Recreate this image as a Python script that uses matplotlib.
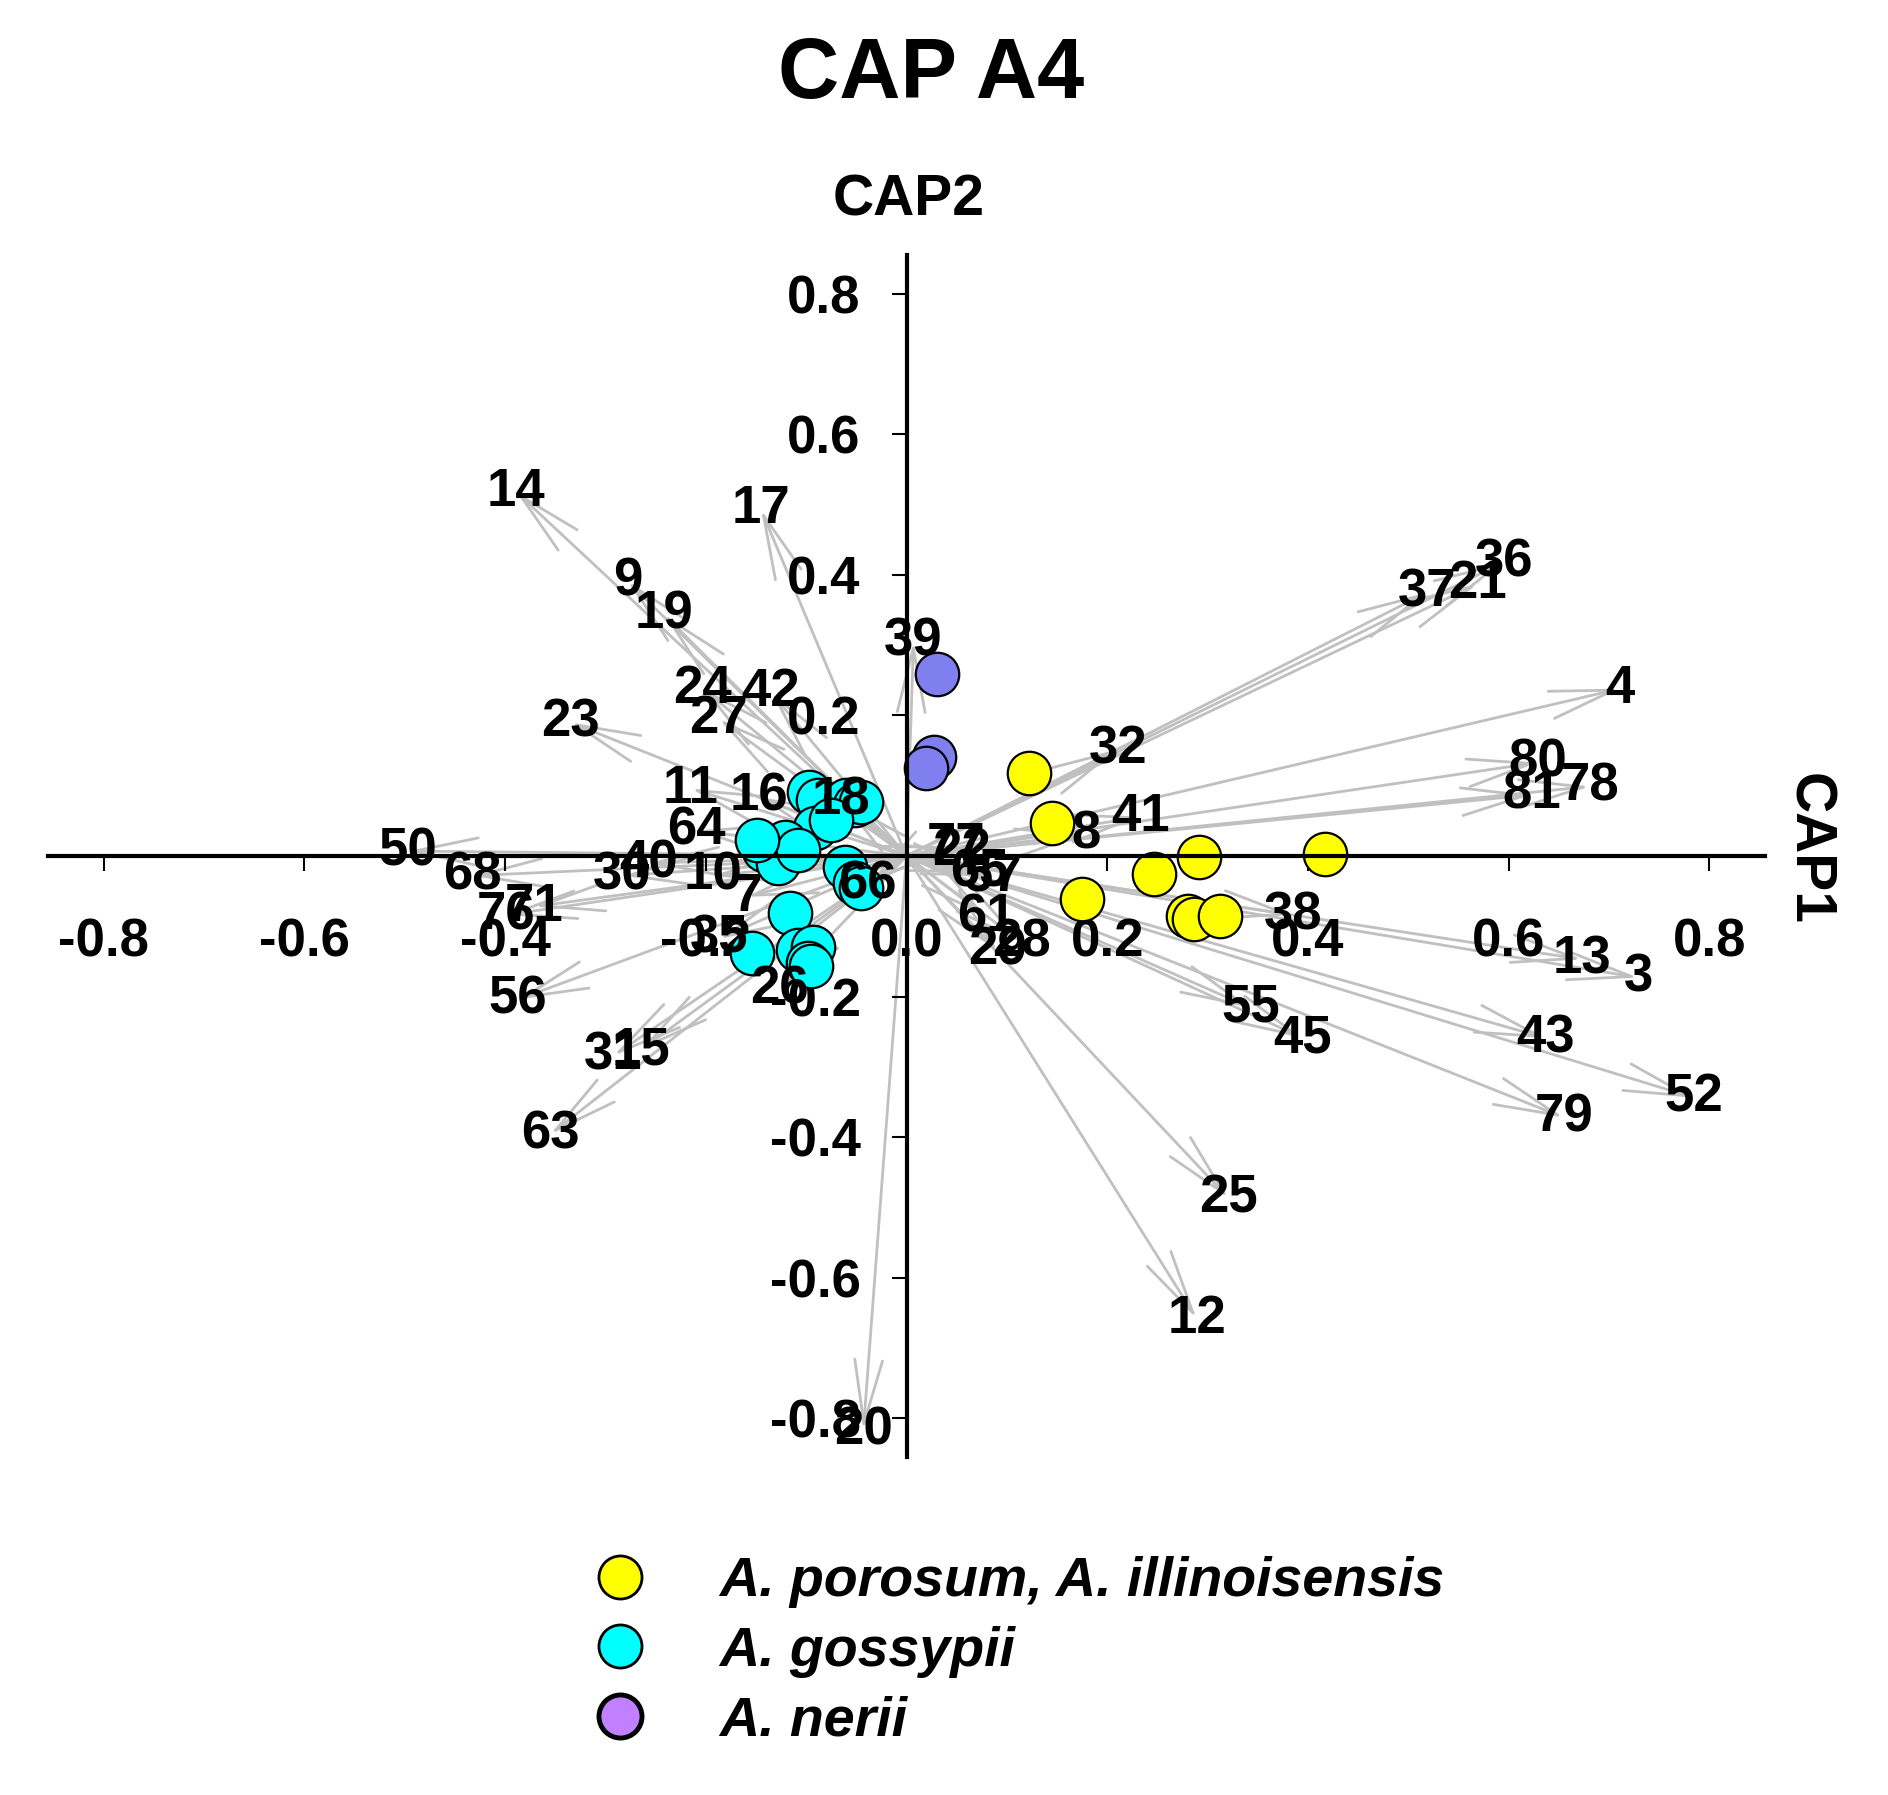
import matplotlib
matplotlib.use('Agg')
import matplotlib.pyplot as plt
from matplotlib.lines import Line2D

plt.rcParams['font.family'] = ['Liberation Sans', 'DejaVu Sans']
plt.rcParams['font.weight'] = 'bold'

# vecteurs des variables (extrémités des flèches)
var_names = ['14', '17', '9', '19', '24', '42', '27', '23', '39', '11', '16', '18',
             '64', '50', '68', '30', '40', '10', '7', '66', '76', '71', '35', '56',
             '31', '15', '63', '26', '20', '12', '25', '55', '45', '38', '43', '79',
             '52', '13', '3', '4', '80', '81', '78', '36', '37', '21', '32', '41',
             '8', '77', '22', '65', '57', '61', '29', '28']
var_x = [-0.389, -0.145, -0.278, -0.242, -0.203, -0.135, -0.187, -0.335, 0.007, -0.215,
         -0.147, -0.065, -0.209, -0.497, -0.433, -0.283, -0.257, -0.193, -0.159, -0.039,
         -0.399, -0.371, -0.187, -0.387, -0.292, -0.265, -0.355, -0.127, -0.043, 0.289,
         0.321, 0.343, 0.395, 0.385, 0.637, 0.655, 0.785, 0.673, 0.729, 0.711,
         0.629, 0.623, 0.681, 0.595, 0.519, 0.569, 0.211, 0.233, 0.179, 0.049,
         0.055, 0.073, 0.086, 0.080, 0.091, 0.115]
var_y = [0.518, 0.493, 0.391, 0.344, 0.238, 0.233, 0.195, 0.190, 0.305, 0.096,
         0.084, 0.079, 0.036, 0.007, -0.028, -0.028, -0.010, -0.028, -0.058, -0.041,
         -0.084, -0.072, -0.118, -0.204, -0.284, -0.276, -0.396, -0.190, -0.817, -0.658,
         -0.487, -0.216, -0.259, -0.084, -0.259, -0.372, -0.344, -0.147, -0.173, 0.238,
         0.133, 0.087, 0.099, 0.418, 0.375, 0.387, 0.152, 0.056, 0.031, 0.014,
         0.007, -0.024, -0.029, -0.087, -0.135, -0.123]

# scores des échantillons par groupe
porosum_x = [0.122, 0.145, 0.175, 0.247, 0.291, 0.281, 0.286, 0.312, 0.417]
porosum_y = [0.118, 0.047, -0.061, -0.025, -0.002, -0.085, -0.090, -0.085, 0.003]

gossypii_x = [-0.097, -0.088, -0.060, -0.051, -0.045, -0.091, -0.134, -0.142, -0.121,
              -0.128, -0.108, -0.061, -0.051, -0.045, -0.116, -0.154, -0.108, -0.093,
              -0.098, -0.095, -0.075, -0.149]
gossypii_y = [0.091, 0.080, 0.080, 0.073, 0.077, 0.040, 0.013, 0.009, 0.020,
              -0.010, 0.009, -0.015, -0.039, -0.046, -0.081, -0.138, -0.134, -0.129,
              -0.152, -0.157, 0.051, 0.023]

nerii_x = [0.030, 0.027, 0.019]
nerii_y = [0.259, 0.141, 0.125]

groups = ['A. porosum, A. illinoisensis', 'A. gossypii', 'A. nerii']
ticks = [-0.8, -0.6, -0.4, -0.2, 0.0, 0.2, 0.4, 0.6, 0.8]

W, H = 1888, 1795
fig = plt.figure(figsize=(W / 100, H / 100), dpi=100)
ax = fig.add_axes([48 / W, 1 - 1457 / H, 1717 / W, 1202 / H])
ax.set_xlim(-0.8555, 0.8555)
ax.set_ylim(-0.855, 0.855)

# axes croisés à l'origine
for side in ['top', 'right']:
    ax.spines[side].set_visible(False)
for side in ['left', 'bottom']:
    ax.spines[side].set_position(('data', 0))
    ax.spines[side].set_linewidth(3)

ax.set_xticks(ticks)
ax.set_xticklabels([f'{t:.1f}' for t in ticks])
yt = [t for t in ticks if t != 0.0]
ax.set_yticks(yt)
ax.set_yticklabels([f'{t:.1f}' for t in yt])
ax.tick_params(direction='out', length=11, width=1.5, labelsize=38)
ax.tick_params(axis='x', pad=33)
ax.tick_params(axis='y', pad=22)

# flèches des variables
for name, x, y in zip(var_names, var_x, var_y):
    ax.annotate('', xy=(x, y), xytext=(0, 0),
                arrowprops=dict(arrowstyle='->,head_length=4.6,head_width=1.0',
                                color='#c0c0c0', lw=2.0, shrinkA=0, shrinkB=0,
                                mutation_scale=10),
                zorder=1)
    ax.text(x, y, name, ha='center', va='center', fontsize=38,
            fontweight='bold', zorder=5)

ax.scatter(porosum_x, porosum_y, s=980, c='#ffff00', edgecolors='black',
           linewidths=1.6, zorder=2)
ax.scatter(gossypii_x, gossypii_y, s=980, c='#00ffff', edgecolors='black',
           linewidths=1.6, zorder=2)
ax.scatter(nerii_x, nerii_y, s=980, c='#7f7fef', edgecolors='black',
           linewidths=1.6, zorder=2)

fig.text(931 / W, 1 - 76 / H, 'CAP A4', ha='center', va='center',
         fontsize=61, fontweight='bold')
fig.text(909 / W, 1 - 200 / H, 'CAP2', ha='center', va='center',
         fontsize=41, fontweight='bold')
fig.text(1808 / W, 1 - 849 / H, 'CAP1', ha='center', va='center',
         fontsize=41, fontweight='bold', rotation=-90)

# légende
handles = [Line2D([], [], marker='o', linestyle='none', markersize=31,
                  markerfacecolor=c, markeredgecolor='black', markeredgewidth=e)
           for c, e in zip(['#ffff00', '#00ffff', '#c080ff'], [2, 2, 3.5])]
fig.legend(handles, groups, loc='upper left',
           bbox_to_anchor=(592 / W, 1 - 1556 / H), frameon=False,
           borderpad=0, borderaxespad=0, handlelength=1.0, handletextpad=1.28,
           labelspacing=0.32, prop={'size': 40, 'weight': 'bold', 'style': 'italic'})

fig.savefig('out.png', dpi=100)
